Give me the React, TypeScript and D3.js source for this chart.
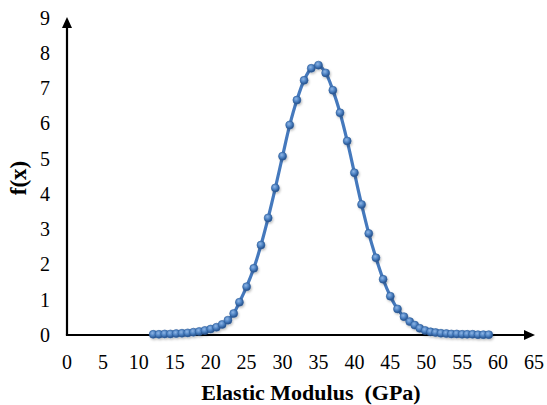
import React from "react";
import * as d3 from "d3";

const xValues = [
  12.0, 12.8, 13.6, 14.4, 15.2, 16.0, 16.8, 17.6, 18.4, 19.2, 20.0, 20.8, 21.6, 22.4, 23.2, 24.0,
  25, 26, 27, 28, 29, 30, 31, 32, 33, 34, 35, 36, 37, 38, 39, 40, 41, 42, 43, 44, 45,
  46.0, 46.9, 47.7, 48.4, 49.1, 49.85, 50.6, 51.3, 52.05, 52.8, 53.5, 54.25, 55.0, 55.7, 56.45, 57.2, 57.95, 58.7,
];
const fValues = [
  0.02, 0.02, 0.03, 0.03, 0.04, 0.05, 0.06, 0.08, 0.1, 0.13, 0.17, 0.22, 0.3, 0.42, 0.61, 0.93,
  1.37, 1.89, 2.55, 3.32, 4.17, 5.07, 5.95, 6.66, 7.22, 7.56, 7.65, 7.43, 6.94, 6.3, 5.5, 4.6, 3.7, 2.88, 2.19, 1.58, 1.1,
  0.74, 0.52, 0.38, 0.28, 0.19, 0.13, 0.09, 0.07, 0.05, 0.04, 0.03, 0.03, 0.02, 0.02, 0.02, 0.01, 0.01, 0.01,
];
const xTicks = [0, 5, 10, 15, 20, 25, 30, 35, 40, 45, 50, 55, 60, 65];
const yTicks = [0, 1, 2, 3, 4, 5, 6, 7, 8, 9];
const xTitle = "Elastic Modulus\u00a0\u00a0(GPa)";
const yTitle = "f(x)";

export default function App() {
  const W = 547;
  const H = 405;
  const x = d3.scaleLinear().domain([0, 65]).range([67, 534]);
  const y = d3.scaleLinear().domain([0, 9]).range([335, 17.5]);
  const pts = xValues.map((v, i) => [v, fValues[i]] as [number, number]);
  const line = d3
    .line<[number, number]>()
    .x((d) => x(d[0]))
    .y((d) => y(d[1]))
    .curve(d3.curveCatmullRom.alpha(0.5));
  const x0 = x(0);
  const y0 = y(0);
  const ts: React.CSSProperties = { fontFamily: '"Liberation Serif", "Times New Roman", "DejaVu Serif", serif' };
  return (
    <svg
      width={W}
      height={H}
      style={{ position: "absolute", left: 0, top: 0, background: "#fff" }}
    >
      <defs>
        <radialGradient id="mk" cx="40%" cy="35%" r="65%">
          <stop offset="0%" stopColor="#8fb6e6" />
          <stop offset="55%" stopColor="#4a7fc0" />
          <stop offset="100%" stopColor="#234c85" />
        </radialGradient>
        <filter id="sh" x="-50%" y="-50%" width="200%" height="200%">
          <feDropShadow dx="1" dy="1.5" stdDeviation="1" floodColor="#000" floodOpacity="0.25" />
        </filter>
      </defs>
      <rect width={W} height={H} fill="#fff" />
      {/* axes */}
      <line x1={x0} y1={y0} x2={x0} y2={27} stroke="#000" strokeWidth={2.2} />
      <path d={`M${x0 - 5},${28} L${x0},${17} L${x0 + 5},${28} Z`} fill="#000" />
      <line x1={x0 - 1.1} y1={y0} x2={525} y2={y0} stroke="#000" strokeWidth={2.2} />
      <path d={`M${524},${y0 - 5} L${535},${y0} L${524},${y0 + 5} Z`} fill="#000" />
      {/* tick labels */}
      {yTicks.map((t) => (
        <text key={"y" + t} x={50} y={y(t)} dy="0.35em" textAnchor="end" fontSize={20} fill="#000" style={ts}>
          {t}
        </text>
      ))}
      {xTicks.map((t) => (
        <text key={"x" + t} x={x(t)} y={369} textAnchor="middle" fontSize={20} fill="#000" style={ts}>
          {t}
        </text>
      ))}
      {/* titles */}
      <text x={311} y={400} textAnchor="middle" fontSize={22} fontWeight="bold" fill="#000" style={ts}>
        {xTitle}
      </text>
      <text
        transform={`translate(26,${178}) rotate(-90)`}
        textAnchor="middle"
        fontSize={23}
        fontWeight="bold"
        fill="#000"
        style={ts}
      >
        {yTitle}
      </text>
      {/* series */}
      <path d={line(pts) || ""} fill="none" stroke="#4579bd" strokeWidth={3.2} />
      <g filter="url(#sh)">
        {pts.map((d, i) => (
          <circle key={i} cx={x(d[0])} cy={y(d[1])} r={4} fill="url(#mk)" stroke="#2f5f9e" strokeWidth={0.6} />
        ))}
      </g>
    </svg>
  );
}
